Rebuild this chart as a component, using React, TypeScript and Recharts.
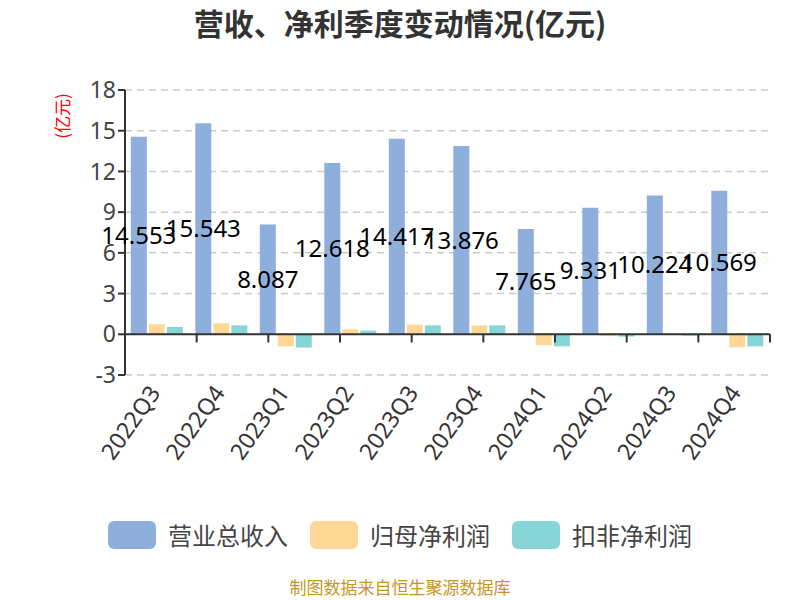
import React from 'react';
import {
  BarChart,
  Bar,
  XAxis,
  YAxis,
  CartesianGrid,
  ReferenceLine,
  LabelList,
} from 'recharts';

const quarters = ['2022Q3', '2022Q4', '2023Q1', '2023Q2', '2023Q3', '2023Q4', '2024Q1', '2024Q2', '2024Q3', '2024Q4'];
const revenue = [14.553, 15.543, 8.087, 12.618, 14.417, 13.876, 7.765, 9.331, 10.224, 10.569];
const netProfit = [0.74, 0.81, -0.89, 0.37, 0.72, 0.66, -0.81, -0.12, -0.05, -0.96];
const deductedProfit = [0.54, 0.66, -0.98, 0.27, 0.66, 0.66, -0.89, -0.17, -0.1, -0.89];
const yTicks = [-3, 0, 3, 6, 9, 12, 15, 18];

const series = [
  { key: 'revenue', name: '营业总收入', color: '#8EAFDC' },
  { key: 'netProfit', name: '归母净利润', color: '#FFD898' },
  { key: 'deductedProfit', name: '扣非净利润', color: '#88D5D8' },
];

const data = quarters.map((q, i) => ({
  name: q,
  revenue: revenue[i],
  netProfit: netProfit[i],
  deductedProfit: deductedProfit[i],
}));

// boundaries between categories, for the little ticks on the zero line
const boundaries = quarters.map((_, i) => i).concat(quarters.length);

const font = '"Noto Sans", "Noto Sans CJK SC", sans-serif';
const cjk = '"Noto Sans CJK SC", sans-serif';

function XTick(props: any) {
  const { x, y, payload } = props;
  return (
    <text
      x={x + 4}
      y={y + 10}
      textAnchor="end"
      fill="#333"
      fontSize={23}
      fontFamily={font}
      transform={`rotate(-55, ${x + 4}, ${y + 10})`}
    >
      {payload.value}
    </text>
  );
}

export default function App() {
  return (
    <div style={{ position: 'absolute', left: 0, top: 0, width: 800, height: 600, background: '#fff', fontFamily: font }}>
      <div style={{ position: 'absolute', top: 4, width: 800, textAlign: 'center', fontSize: 30, lineHeight: '36px', fontWeight: 'bold', color: '#333', fontFamily: cjk }}>
        营收、净利季度变动情况(亿元)
      </div>
      <div style={{ position: 'absolute', left: 62, top: 116, width: 0, height: 0 }}>
        <div style={{ position: 'absolute', left: -30, top: -11, width: 60, height: 22, lineHeight: '22px', textAlign: 'center', fontSize: 17, color: '#f00', transform: 'rotate(-90deg)', fontFamily: cjk }}>
          (亿元)
        </div>
      </div>
      <BarChart
        width={800}
        height={600}
        data={data}
        margin={{ top: 90, right: 30, left: 0, bottom: 125 }}
        barCategoryGap="9%"
        barGap={2}
      >
        <CartesianGrid vertical={false} stroke="#ccc" strokeDasharray="7 5" strokeWidth={1.5} />
        <XAxis dataKey="name" axisLine={false} tickLine={false} tick={<XTick />} interval={0} height={100} />
        <XAxis xAxisId="pos" type="number" domain={[0, quarters.length]} hide />
        <YAxis
          width={125}
          domain={[-3, 18]}
          ticks={yTicks}
          axisLine={{ stroke: '#333', strokeWidth: 2 }}
          tickLine={{ stroke: '#333', strokeWidth: 2 }}
          tickSize={7}
          tick={{ fill: '#444', fontSize: 23, fontFamily: font }}
          allowDataOverflow
        />
        <ReferenceLine y={0} stroke="#333" strokeWidth={2} />
        {boundaries.map((b) => (
          <ReferenceLine
            key={b}
            xAxisId="pos"
            segment={[{ x: b, y: 0 }, { x: b, y: -0.6 }]}
            stroke="#333"
            strokeWidth={2}
          />
        ))}
        {series.map((s) => (
          <Bar key={s.key} dataKey={s.key} name={s.name} fill={s.color} isAnimationActive={false}>
            {s.key === 'revenue' && (
              <LabelList dataKey="revenue" position="center" fill="#000" fontSize={24} fontFamily={font} />
            )}
          </Bar>
        ))}
      </BarChart>
      <div style={{ position: 'absolute', top: 521, left: 0, width: 800, display: 'flex', justifyContent: 'center', alignItems: 'center' }}>
        {series.map((s, i) => (
          <div key={s.key} style={{ display: 'flex', alignItems: 'center', marginLeft: i === 0 ? 0 : 22 }}>
            <div style={{ width: 48, height: 28, borderRadius: 6, background: s.color }} />
            <span style={{ marginLeft: 12, fontSize: 24, color: '#444', fontFamily: cjk, lineHeight: '28px' }}>{s.name}</span>
          </div>
        ))}
      </div>
      <div style={{ position: 'absolute', top: 576, left: 0, width: 800, textAlign: 'center', fontSize: 17, lineHeight: '22px', color: '#C8961E', fontFamily: cjk }}>
        制图数据来自恒生聚源数据库
      </div>
    </div>
  );
}
